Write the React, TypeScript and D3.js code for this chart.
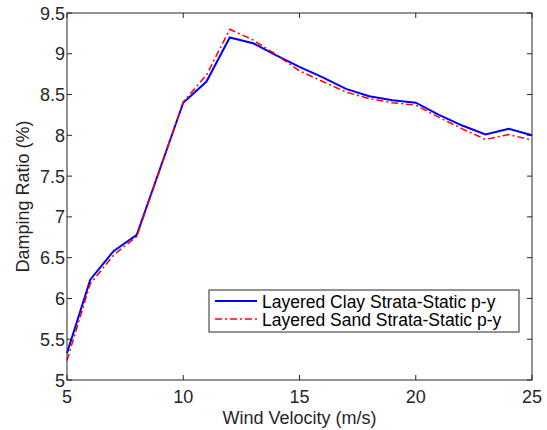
import React from "react";
import * as d3 from "d3";

const windSpeed = [5, 6, 7, 8, 9, 10, 11, 12, 13, 14, 15, 16, 17, 18, 19, 20, 21, 22, 23, 24, 25];
const clayDamping = [5.33, 6.23, 6.58, 6.78, 7.59, 8.4, 8.66, 9.2, 9.13, 8.98, 8.84, 8.71, 8.57, 8.48, 8.43, 8.4, 8.25, 8.12, 8.01, 8.08, 8.0];
const sandDamping = [5.24, 6.18, 6.53, 6.76, 7.58, 8.41, 8.74, 9.3, 9.17, 8.99, 8.79, 8.66, 8.53, 8.45, 8.4, 8.37, 8.22, 8.08, 7.95, 8.01, 7.94];
const xTicks = [5, 10, 15, 20, 25];
const yTicks = [5, 5.5, 6, 6.5, 7, 7.5, 8, 8.5, 9, 9.5];
const seriesNames = ["Layered Clay Strata-Static p-y", "Layered Sand Strata-Static p-y"];

export default function App() {
  const W = 547, H = 430;
  const left = 67, right = 532, top = 13, bottom = 380;
  const x = d3.scaleLinear().domain([5, 25]).range([left, right]);
  const y = d3.scaleLinear().domain([5, 9.5]).range([bottom, top]);
  const line = d3.line<number>().x((_, i) => x(windSpeed[i])).y((d) => y(d));
  const axisColor = "#262626";
  const font = "'Liberation Sans', Arial, Helvetica, sans-serif";
  const tickLen = 5;
  return (
    <svg width={W} height={H} style={{ position: "absolute", left: 0, top: 0 }} fontFamily={font}>
      <rect x={0} y={0} width={W} height={H} fill="#fff" />
      <path d={line(clayDamping) || ""} fill="none" stroke="#0000ff" strokeWidth={2} />
      <path d={line(sandDamping) || ""} fill="none" stroke="#ff0000" strokeWidth={1.5} strokeDasharray="7,3,2,3" />
      <rect x={left} y={top} width={right - left} height={bottom - top} fill="none" stroke={axisColor} strokeWidth={1} />
      {xTicks.map((t) => (
        <g key={"x" + t}>
          <line x1={x(t)} x2={x(t)} y1={bottom} y2={bottom - tickLen} stroke={axisColor} />
          <line x1={x(t)} x2={x(t)} y1={top} y2={top + tickLen} stroke={axisColor} />
          <text x={x(t)} y={403} textAnchor="middle" fontSize={18} fill="#262626">{t}</text>
        </g>
      ))}
      {yTicks.map((t) => (
        <g key={"y" + t}>
          <line x1={left} x2={left + tickLen} y1={y(t)} y2={y(t)} stroke={axisColor} />
          <line x1={right} x2={right - tickLen} y1={y(t)} y2={y(t)} stroke={axisColor} />
          <text x={left - 2} y={y(t) + 6.5} textAnchor="end" fontSize={18} fill="#262626">{t}</text>
        </g>
      ))}
      <text x={(left + right) / 2} y={424} textAnchor="middle" fontSize={18} fill="#262626">Wind Velocity (m/s)</text>
      <text transform={`translate(29,${(top + bottom) / 2}) rotate(-90)`} textAnchor="middle" fontSize={18} fill="#262626">Damping Ratio (%)</text>
      <g>
        <rect x={209} y={290} width={310} height={42} fill="#fff" stroke={axisColor} strokeWidth={1} />
        <line x1={215} x2={257} y1={301} y2={301} stroke="#0000ff" strokeWidth={2} />
        <line x1={215} x2={257} y1={319} y2={319} stroke="#ff0000" strokeWidth={1.5} strokeDasharray="7,3,2,3" />
        <text x={262} y={307.5} fontSize={17.5} fill="#000">{seriesNames[0]}</text>
        <text x={262} y={325.5} fontSize={17.5} fill="#000">{seriesNames[1]}</text>
      </g>
    </svg>
  );
}
